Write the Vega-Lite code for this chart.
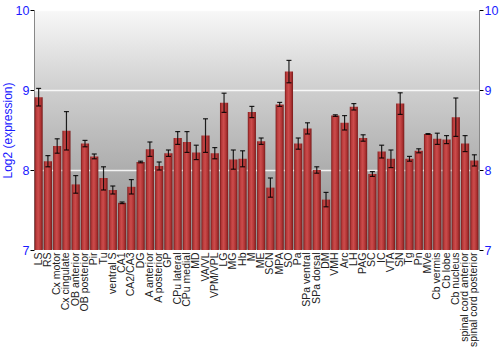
{
  "$schema": "https://vega.github.io/schema/vega-lite/v6.json",
  "autosize": "none",
  "width": 445,
  "height": 240,
  "padding": {"left": 34, "top": 10, "right": 21, "bottom": 100},
  "background": "white",
  "config": {
    "view": {"stroke": null, "fill": {"gradient": "linear", "x1": 0, "y1": 0, "x2": 0, "y2": 1, "stops": [{"offset": 0, "color": "#f8f8f8"}, {"offset": 0.33, "color": "#cfcfcf"}, {"offset": 1, "color": "#8c8c8c"}]}},
    "axis": {"labelFont": "Liberation Sans", "titleFont": "Liberation Sans"}
  },
  "data": {"values": [
    {"region": "LS", "value": 8.91, "lo": 8.80, "hi": 9.02},
    {"region": "RS", "value": 8.11, "lo": 8.04, "hi": 8.18},
    {"region": "Cx motor", "value": 8.30, "lo": 8.21, "hi": 8.39},
    {"region": "Cx cingulate", "value": 8.49, "lo": 8.25, "hi": 8.73},
    {"region": "OB anterior", "value": 7.82, "lo": 7.71, "hi": 7.93},
    {"region": "OB posterior", "value": 8.33, "lo": 8.29, "hi": 8.37},
    {"region": "Pir", "value": 8.17, "lo": 8.14, "hi": 8.20},
    {"region": "Tu", "value": 7.90, "lo": 7.75, "hi": 8.04},
    {"region": "ventral S", "value": 7.75, "lo": 7.70, "hi": 7.80},
    {"region": "CA1", "value": 7.59, "lo": 7.58, "hi": 7.60},
    {"region": "CA2/CA3", "value": 7.79, "lo": 7.70, "hi": 7.88},
    {"region": "DG", "value": 8.10, "lo": 8.09, "hi": 8.11},
    {"region": "A anterior", "value": 8.26, "lo": 8.17, "hi": 8.35},
    {"region": "A posterior", "value": 8.05, "lo": 8.00, "hi": 8.10},
    {"region": "GP", "value": 8.21, "lo": 8.17, "hi": 8.25},
    {"region": "CPu lateral", "value": 8.40, "lo": 8.32, "hi": 8.48},
    {"region": "CPu medial", "value": 8.35, "lo": 8.22, "hi": 8.48},
    {"region": "MD", "value": 8.22, "lo": 8.13, "hi": 8.31},
    {"region": "VA/VL", "value": 8.43, "lo": 8.22, "hi": 8.64},
    {"region": "VPM/VPL", "value": 8.21, "lo": 8.14, "hi": 8.28},
    {"region": "LG", "value": 8.84, "lo": 8.72, "hi": 8.96},
    {"region": "MG", "value": 8.13, "lo": 8.01, "hi": 8.25},
    {"region": "Hb", "value": 8.14, "lo": 8.04, "hi": 8.24},
    {"region": "M", "value": 8.725, "lo": 8.655, "hi": 8.795},
    {"region": "ME", "value": 8.36, "lo": 8.32, "hi": 8.40},
    {"region": "SCN", "value": 7.78, "lo": 7.66, "hi": 7.90},
    {"region": "MPA", "value": 8.82, "lo": 8.795, "hi": 8.845},
    {"region": "SO", "value": 9.23, "lo": 9.09, "hi": 9.37},
    {"region": "Pa", "value": 8.33, "lo": 8.26, "hi": 8.40},
    {"region": "SPa ventral", "value": 8.52, "lo": 8.45, "hi": 8.59},
    {"region": "SPa dorsal", "value": 8.00, "lo": 7.96, "hi": 8.04},
    {"region": "DM", "value": 7.63, "lo": 7.54, "hi": 7.72},
    {"region": "VMH", "value": 8.68, "lo": 8.67, "hi": 8.69},
    {"region": "Arc", "value": 8.59, "lo": 8.50, "hi": 8.68},
    {"region": "LH", "value": 8.79, "lo": 8.75, "hi": 8.83},
    {"region": "PAG", "value": 8.40, "lo": 8.36, "hi": 8.44},
    {"region": "SC", "value": 7.95, "lo": 7.92, "hi": 7.98},
    {"region": "IC", "value": 8.23, "lo": 8.15, "hi": 8.31},
    {"region": "VTA", "value": 8.14, "lo": 8.03, "hi": 8.25},
    {"region": "SN", "value": 8.83, "lo": 8.695, "hi": 8.965},
    {"region": "Tg", "value": 8.14, "lo": 8.11, "hi": 8.17},
    {"region": "Pn", "value": 8.24, "lo": 8.215, "hi": 8.265},
    {"region": "MVe", "value": 8.45, "lo": 8.445, "hi": 8.455},
    {"region": "Cb vermis", "value": 8.39, "lo": 8.32, "hi": 8.46},
    {"region": "Cb lobe", "value": 8.38, "lo": 8.33, "hi": 8.43},
    {"region": "Cb nucleus", "value": 8.66, "lo": 8.42, "hi": 8.90},
    {"region": "spinal cord anterior", "value": 8.33, "lo": 8.23, "hi": 8.43},
    {"region": "spinal cord posterior", "value": 8.12, "lo": 8.05, "hi": 8.19}
  ]},
  "encoding": {
    "x": {"field": "region", "type": "nominal", "sort": null,
      "scale": {"paddingInner": 0.12, "paddingOuter": 0.06},
      "axis": {"title": null, "labelAngle": -90, "labelAlign": "right", "labelBaseline": "middle", "labelFontSize": 10.5, "labelColor": "#222222", "ticks": false, "domain": false, "labelPadding": 2, "labelOverlap": false}}
  },
  "layer": [
    {
      "mark": {"type": "bar", "fill": {"gradient": "linear", "x1": 0, "y1": 0, "x2": 1, "y2": 0, "stops": [{"offset": 0, "color": "#7a1b1b"}, {"offset": 0.2, "color": "#b83a3a"}, {"offset": 0.45, "color": "#cc4c4c"}, {"offset": 0.75, "color": "#b03434"}, {"offset": 1, "color": "#781a1a"}]}},
      "encoding": {
        "y": {"field": "value", "type": "quantitative", "scale": {"domain": [7, 10], "nice": false, "zero": false},
          "axis": {"orient": "left", "values": [7, 8, 9, 10], "title": "Log2 (expression)", "titleColor": "#1a1aff", "titleFontSize": 12, "titleFontWeight": "normal", "titlePadding": 1, "labelColor": "#1a1aff", "labelFontSize": 12.5, "labelPadding": 1, "tickColor": "#000000", "tickSize": 4, "domainColor": "#888888", "grid": true, "gridColor": "#ffffff", "gridWidth": 1.5, "gridOpacity": 0.85}},
        "y2": {"datum": 7}
      }
    },
    {
      "mark": {"type": "rule", "color": "#000000", "strokeWidth": 1.2, "opacity": 0.85},
      "encoding": {
        "y": {"field": "lo", "type": "quantitative", "scale": {"domain": [7, 10], "nice": false, "zero": false},
          "axis": {"orient": "right", "values": [7, 8, 9, 10], "title": null, "labelColor": "#1a1aff", "labelFontSize": 12.5, "labelPadding": 1, "tickColor": "#000000", "tickSize": 4, "domainColor": "#888888", "grid": false}},
        "y2": {"field": "hi"}
      }
    },
    {
      "mark": {"type": "tick", "color": "#000000", "thickness": 1.2, "size": 5, "opacity": 0.85},
      "encoding": {"y": {"field": "lo", "type": "quantitative", "axis": null}}
    },
    {
      "mark": {"type": "tick", "color": "#000000", "thickness": 1.2, "size": 5, "opacity": 0.85},
      "encoding": {"y": {"field": "hi", "type": "quantitative", "axis": null}}
    }
  ],
  "resolve": {"axis": {"y": "independent"}}
}
